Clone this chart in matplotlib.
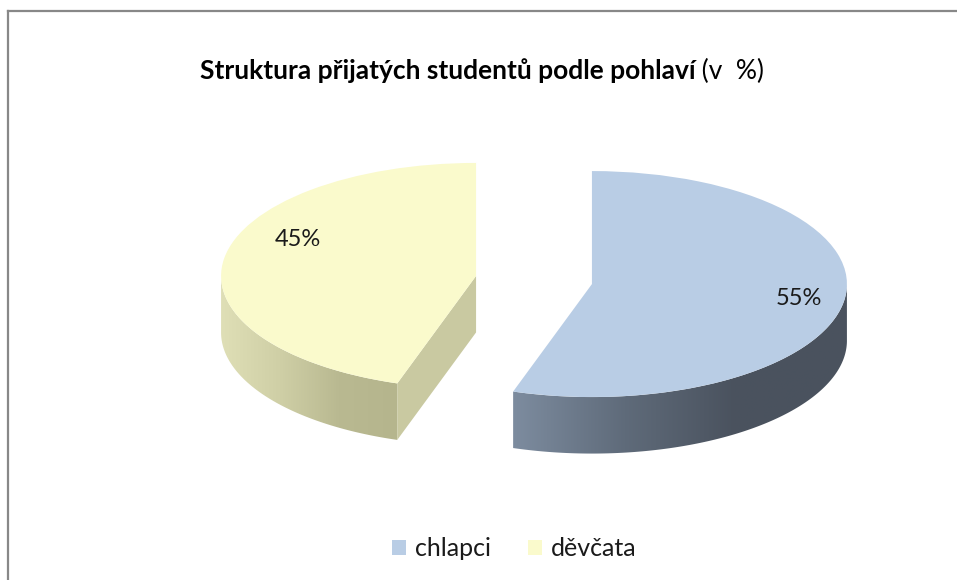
import numpy as np
import matplotlib.pyplot as plt
from matplotlib.colors import LinearSegmentedColormap
from matplotlib.patches import Polygon
from matplotlib.lines import Line2D

plt.rcParams['font.family'] = ['Lato', 'DejaVu Sans']

# data
labels = ['chlapci', 'děvčata']
shares = [55, 45]
top_colors = ['#b9cde5', '#fafacc']
side_grad = [['#7d8c9f', '#5f6b7a', '#4a525e', '#4a535f'],
             ['#dfdfb6', '#cfcfa6', '#b9b991', '#b5b58d']]
cut_colors = ['#4a535f', '#c9c9a1']

title_bold = 'Struktura přijatých studentů podle pohlaví'
title_rest = ' (v  %)'

W, H = 957, 580
# pixel layout of the pie (centre, radii), thickness in y units
cx_px, cy_px, rx_px, ry_px = 534, 280, 255, 113
depth = 0.5

fig = plt.figure(figsize=(W / 100, H / 100), dpi=100)
ax = fig.add_axes([0, 0, 1, 1])

wedges, texts, autotexts = ax.pie(shares, colors=top_colors, startangle=90,
                                  counterclock=False, explode=[0.23, 0.23],
                                  autopct='%d%%', pctdistance=0.82,
                                  textprops=dict(fontsize=17, color='#1a1a1a'))

# fake 3d sides
for w, grad, cut in zip(wedges, side_grad, cut_colors):
    cx, cy = w.center
    r = w.r
    t = np.radians(np.linspace(w.theta1, w.theta2, 400))
    vis = t[np.sin(t) <= 1e-9]
    if len(vis):
        xs = cx + r * np.cos(vis)
        ys = cy + r * np.sin(vis)
        verts = np.r_[np.c_[xs, ys], np.c_[xs[::-1], ys[::-1] - depth]]
        poly = Polygon(verts, closed=True, facecolor='none', edgecolor='none')
        ax.add_patch(poly)
        cmap = LinearSegmentedColormap.from_list('side', grad)
        img = ax.imshow(np.linspace(0, 1, 256)[None, :], cmap=cmap, aspect='auto',
                        extent=[xs.min(), xs.max(), ys.min() - depth, ys.max()],
                        zorder=0.5, interpolation='bilinear')
        img.set_clip_path(poly)
    for a, sgn in ((w.theta1, -1), (w.theta2, 1)):
        n = np.radians(a + sgn * 90)
        if np.sin(n) < -1e-6:
            ra = np.radians(a)
            ex, ey = cx + r * np.cos(ra), cy + r * np.sin(ra)
            ax.add_patch(Polygon([(cx, cy), (ex, ey), (ex, ey - depth), (cx, cy - depth)],
                                 facecolor=cut, edgecolor='none', zorder=0.6))

# nudge the yellow label up like the original
x0, y0 = autotexts[1].get_position()
autotexts[1].set_position((x0 + 0.11, y0 + 0.19))

ax.set_aspect('auto')
ax.set_xlim(-cx_px / rx_px, (W - cx_px) / rx_px)
ax.set_ylim(-(H - cy_px) / ry_px, cy_px / ry_px)
ax.axis('off')

# title: bold part + normal part
fig.canvas.draw()
r = fig.canvas.get_renderer()
t1 = fig.text(0, 1 - 79 / H, title_bold, fontsize=19, fontweight='bold', va='baseline')
t2 = fig.text(0, 1 - 79 / H, title_rest, fontsize=19, va='baseline')
w1 = t1.get_window_extent(r).width
w2 = t2.get_window_extent(r).width
left = 482 - (w1 + w2) / 2
t1.set_x(left / W)
t2.set_x((left + w1) / W)

fig.legend(wedges, labels, loc='center', bbox_to_anchor=(514 / W, 1 - 549 / H), ncol=2,
           frameon=False, handlelength=0.55, handleheight=0.55, handletextpad=0.35,
           columnspacing=1.5, fontsize=18, labelcolor='#1a1a1a')

# chart border (only top and left visible in crop)
fig.add_artist(Line2D([8 / W, 8 / W], [0, 1 - 11 / H], color='#888888', lw=1.6))
fig.add_artist(Line2D([8 / W, 1], [1 - 11 / H, 1 - 11 / H], color='#888888', lw=1.6))

fig.savefig('out.png', dpi=100)
